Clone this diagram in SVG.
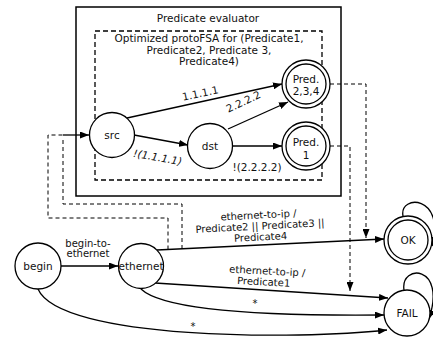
<svg xmlns="http://www.w3.org/2000/svg" width="433" height="337" viewBox="0 0 433 337">
<style>
text{font-family:"DejaVu Sans","Verdana",sans-serif;font-size:10.5px;fill:#111;text-anchor:middle}
.lbl{font-size:10px}
.node{fill:#fff;stroke:#000;stroke-width:1.3}
.edge{fill:none;stroke:#000;stroke-width:1.3}
.dash{fill:none;stroke:#000;stroke-width:1;stroke-dasharray:4,3}
.box{fill:none;stroke:#000;stroke-width:1.5}
.dbox{fill:none;stroke:#000;stroke-width:1.3;stroke-dasharray:5,3}
</style>
<defs>
<marker id="ah" markerUnits="userSpaceOnUse" markerWidth="9" markerHeight="7" refX="9" refY="3.5" orient="auto">
<path d="M0,0 L9,3.5 L0,7 z" fill="#000"/>
</marker>
</defs>
<rect width="433" height="337" fill="#fff"/>
<g id="predicate-evaluator">
<rect class="box" x="76" y="7" width="265" height="189"/>
<text x="208" y="22">Predicate evaluator</text>
</g>
<g id="optimized-protofsa">
<rect class="dbox" x="95" y="31" width="227" height="149"/>
<text x="209" y="42">Optimized protoFSA for (Predicate1,</text>
<text x="209" y="54">Predicate2, Predicate 3,</text>
<text x="209" y="65">Predicate4)</text>
</g>
<g id="connectors">
<path class="edge" d="M127,118 L282,84" marker-end="url(#ah)"/>
<path class="edge" d="M134,135 L188,145" marker-end="url(#ah)"/>
<path class="edge" d="M228,129 L288,102" marker-end="url(#ah)"/>
<path class="edge" d="M233,146 L282,146" marker-end="url(#ah)"/>
<text transform="translate(201,97) rotate(-12)">1.1.1.1</text>
<text transform="translate(245,105) rotate(-25)">2.2.2.2</text>
<text transform="translate(157,161) rotate(10)" font-style="italic">!(1.1.1.1)</text>
<text x="257" y="171">!(2.2.2.2)</text>
<path class="dash" d="M168,249.5 L168,218 L48,218 L48,135 L63,135"/>
<path class="dash" d="M182,249 L182,204 L63,204 L63,138"/>
<path class="edge" d="M63,135 L89,135" marker-end="url(#ah)"/>
<path class="dash" d="M330,84 L366,84 L366,238" marker-end="url(#ah)"/>
<path class="dash" d="M330,146 L350,146 L350,291" marker-end="url(#ah)"/>
<path class="edge" d="M61,266 L118,266" marker-end="url(#ah)"/>
<text class="lbl" x="88" y="246.5">begin-to-</text>
<text class="lbl" x="88" y="257">ethernet</text>
<path class="edge" d="M157,250 L384,239" marker-end="url(#ah)"/>
<g transform="rotate(-3 260 226)">
<text class="lbl" x="259" y="218.5">ethernet-to-ip /</text>
<text class="lbl" x="260" y="229.5">Predicate2 || Predicate3 ||</text>
<text class="lbl" x="260" y="240.5">Predicate4</text>
</g>
<path class="edge" d="M155,283 L388,298" marker-end="url(#ah)"/>
<g transform="rotate(3 266 276)">
<text class="lbl" x="267" y="274.5">ethernet-to-ip /</text>
<text class="lbl" x="264" y="285.5">Predicate1</text>
</g>
<path class="edge" d="M141,289 C165,312 280,316 384,315" marker-end="url(#ah)"/>
<text class="lbl" x="255" y="307">*</text>
<path class="edge" d="M38,289 C60,340 300,340 387,330" marker-end="url(#ah)"/>
<text class="lbl" x="193" y="330">*</text>
<path class="edge" d="M403,216 C399,194 446,195 432,246" marker-end="url(#ah)"/>
<path class="edge" d="M404,290 C400,264 447,264 429,319" marker-end="url(#ah)"/>
</g>
<g id="src">
<circle class="node" cx="112" cy="135" r="22.5"/>
<text x="112" y="139">src</text>
</g>
<g id="dst">
<circle class="node" cx="210" cy="146" r="22.5"/>
<text x="210" y="150">dst</text>
</g>
<g id="pred234">
<circle class="node" cx="306" cy="84" r="24"/>
<circle class="node" cx="306" cy="84" r="20"/>
<text x="306" y="83">Pred.</text>
<text x="306" y="95">2,3,4</text>
</g>
<g id="pred1">
<circle class="node" cx="306" cy="146" r="24"/>
<circle class="node" cx="306" cy="146" r="20"/>
<text x="306" y="146">Pred.</text>
<text x="306" y="159">1</text>
</g>
<g id="begin">
<circle class="node" cx="38" cy="266" r="23"/>
<text x="38" y="270">begin</text>
</g>
<g id="ethernet">
<circle class="node" cx="141" cy="266" r="22.5"/>
<text x="141" y="270">ethernet</text>
</g>
<g id="ok">
<circle class="node" cx="408" cy="240" r="24"/>
<circle class="node" cx="408" cy="240" r="20"/>
<text x="408" y="244">OK</text>
</g>
<g id="fail">
<circle class="node" cx="407" cy="313" r="23"/>
<text x="407" y="317">FAIL</text>
</g>
</svg>
